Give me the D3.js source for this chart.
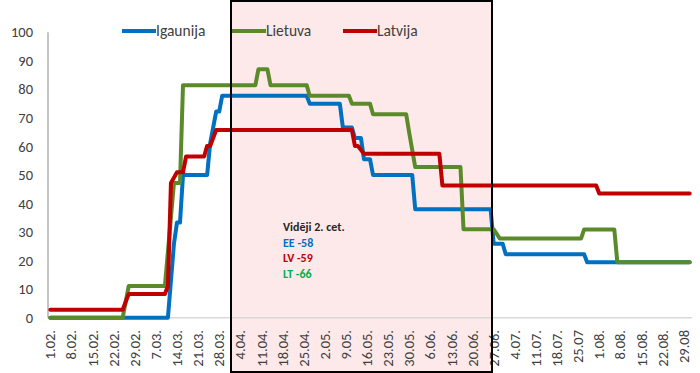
<!DOCTYPE html>
<html>
<head>
<meta charset="utf-8">
<script src="https://cdn.jsdelivr.net/npm/d3@7"></script>
<style>
  html, body { margin: 0; padding: 0; background: #ffffff; }
  svg { display: block; }
  text { font-family: Calibri, Carlito, Lato, "Open Sans", sans-serif; }
</style>
</head>
<body>
<svg id="chart" width="700" height="373"></svg>
<script>
// Day index counted from 1 February (day 0) to 31 August (day 212)
const seriesNames = ["Igaunija", "Lietuva", "Latvija"];
const seriesColors = ["#0070c0", "#5b8a2b", "#c00000"];

const igaunija = [[0,0],[39,0],[41,25.93],[42,33.33],[43,33.33],[44,50],[52,50],[53,61.11],[55,72.22],[56,72.22],[57,77.78],[85,77.78],[86,75],[96,75],[97,66.67],[100,66.67],[101,62.96],[103,62.96],[104,55.56],[106,55.56],[107,50],[120,50],[121,37.96],[146,37.96],[147,25.93],[150,25.93],[151,22.22],[177,22.22],[178,19.44],[212,19.44]];

const lietuva = [[0,0],[24,0],[25,5.56],[26,11.11],[38,11.11],[41,47.22],[43,47.22],[44,81.48],[68,81.48],[69,87.04],[72,87.04],[73,81.48],[85,81.48],[86,77.78],[99,77.78],[100,75],[106,75],[107,71.3],[118,71.3],[119,64.81],[121,52.78],[136,52.78],[137,31],[147,31],[149,27.78],[176,27.78],[177,30.93],[187,30.93],[188,19.44],[212,19.44]];

const latvija = [[0,2.78],[24,2.78],[25,5.56],[26,8.33],[38,8.33],[39,11.11],[40,47.22],[42,50.93],[44,50.93],[45,56.48],[51,56.48],[52,60.19],[53,60.19],[55,65.74],[100,65.74],[101,60.19],[102,60.19],[104,57.41],[129,57.41],[130,46.3],[181,46.3],[182,43.52],[212,43.52]];

const tickDays = [0,7,14,21,28,35,42,49,56,63,70,77,84,91,98,105,112,119,126,133,140,147,154,161,168,175,182,189,196,203,210];
const tickLabels = ["1.02.","8.02.","15.02.","22.02.","29.02.","7.03.","14.03.","21.03.","28.03.","4.04.","11.04.","18.04.","25.04.","2.05.","9.05.","16.05.","23.05.","30.05.","6.06.","13.06.","20.06.","27.06.","4.07.","11.07.","18.07.","25.07","1.08.","8.08.","15.08.","22.08.","29.08"];
const yTicks = [0,10,20,30,40,50,60,70,80,90,100];

const periodDays = [62, 148];   // shaded period (2. ceturksnis)
const noteTitle = "Vidēji 2. cet.";
const noteLines = ["EE -58", "LV -59", "LT -66"];
const noteColors = ["#0070c0", "#c00000", "#00b050"];

const svg = d3.select("#chart");
const plotLeft = 48, plotRight = 692;
const x = d3.scaleLinear().domain([0, 212]).range([50.3, 689.7]);
const y = d3.scaleLinear().domain([0, 100]).range([317.7, 32.3]);

// shaded box fill
const boxX0 = 231, boxX1 = 492;
svg.append("rect")
  .attr("x", boxX0).attr("y", 1).attr("width", boxX1 - boxX0).attr("height", 371)
  .attr("fill", "#fde9e9");

// zero gridline
svg.append("line")
  .attr("x1", plotLeft).attr("x2", plotRight)
  .attr("y1", y(0)).attr("y2", y(0))
  .attr("stroke", "#d9d9d9").attr("stroke-width", 1.5);

// y axis line
svg.append("line")
  .attr("x1", plotLeft).attr("x2", plotLeft)
  .attr("y1", y(100)).attr("y2", y(0))
  .attr("stroke", "#a6a6a6").attr("stroke-width", 1.3);

// y tick labels
svg.append("g").selectAll("text").data(yTicks).join("text")
  .attr("x", 33).attr("y", d => y(d)).attr("dy", "0.35em")
  .attr("text-anchor", "end")
  .attr("font-size", 14.5).attr("fill", "#404040")
  .text(d => d);

// x tick labels (rotated)
svg.append("g").selectAll("text").data(tickDays).join("text")
  .attr("transform", (d) => `translate(${x(d)},330) rotate(-90)`)
  .attr("dy", "0.35em")
  .attr("text-anchor", "end")
  .attr("font-size", 14.5).attr("fill", "#404040")
  .text((d, i) => tickLabels[i]);

// series lines
const line = d3.line().x(d => x(d[0])).y(d => y(d[1]));
const allSeries = [igaunija, lietuva, latvija];
svg.append("g").selectAll("path").data(allSeries).join("path")
  .attr("d", line)
  .attr("fill", "none")
  .attr("stroke", (d, i) => seriesColors[i])
  .attr("stroke-width", 4)
  .attr("stroke-linejoin", "round")
  .attr("stroke-linecap", "round");

// box border
svg.append("rect")
  .attr("x", boxX0).attr("y", 1).attr("width", boxX1 - boxX0).attr("height", 371)
  .attr("fill", "none").attr("stroke", "#000000").attr("stroke-width", 2);

// legend
const legendX = [122, 232, 343];
const lg = svg.append("g");
seriesNames.forEach((name, i) => {
  lg.append("line")
    .attr("x1", legendX[i]).attr("x2", legendX[i] + 34)
    .attr("y1", 31).attr("y2", 31)
    .attr("stroke", seriesColors[i]).attr("stroke-width", 4);
  lg.append("text")
    .attr("x", legendX[i] + 34).attr("y", 31).attr("dy", "0.35em")
    .attr("font-size", 15.5).attr("fill", "#404040")
    .text(name);
});

// note
const ng = svg.append("g").attr("font-weight", "bold").attr("font-size", 12);
ng.append("text").attr("x", 283).attr("y", 227).attr("dy", "0.35em")
  .attr("fill", "#262626").text(noteTitle);
noteLines.forEach((t, i) => {
  ng.append("text").attr("x", 283).attr("y", 242.5 + i * 15.5).attr("dy", "0.35em")
    .attr("fill", noteColors[i]).text(t);
});
</script>
</body>
</html>
